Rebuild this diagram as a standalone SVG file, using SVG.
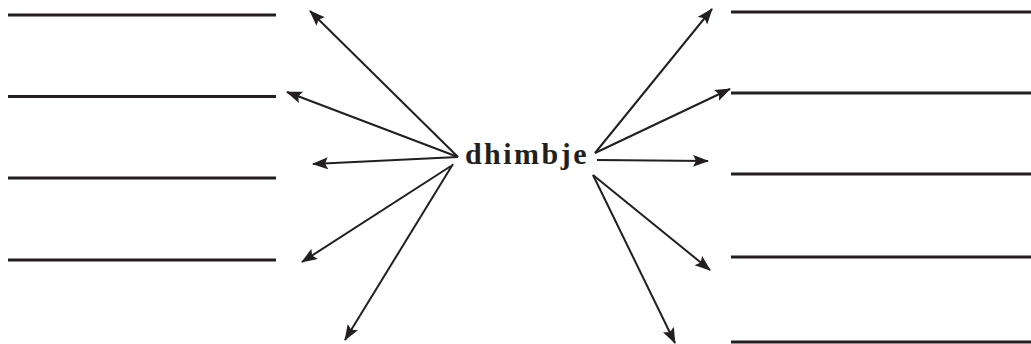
<svg xmlns="http://www.w3.org/2000/svg" width="1031" height="344" viewBox="0 0 1031 344">
<style>
.ln{stroke:#231f20;stroke-width:3.2;fill:none}
.ar{stroke:#231f20;stroke-width:2;fill:none;marker-end:url(#ah)}
.lbl{font-family:'Liberation Serif','Times New Roman','DejaVu Serif',serif;font-weight:700;font-size:30px;letter-spacing:2.5px;fill:#231f20}
</style>
<defs>
<marker id="ah" markerUnits="userSpaceOnUse" markerWidth="18" markerHeight="14" refX="15" refY="6" orient="auto">
<path d="M0,0 L16,6 L0,12 L3,6 Z" fill="#231f20"/>
</marker>
</defs>
<rect width="1031" height="344" fill="#fff"/>
<g id="lines-left">
<line class="ln" x1="8" y1="15" x2="276" y2="15"/>
<line class="ln" x1="8" y1="96.5" x2="276" y2="96.5"/>
<line class="ln" x1="8" y1="178" x2="276" y2="178"/>
<line class="ln" x1="8" y1="260" x2="276" y2="260"/>
</g>
<g id="lines-right">
<line class="ln" x1="731" y1="12" x2="1031" y2="12"/>
<line class="ln" x1="731" y1="93" x2="1031" y2="93"/>
<line class="ln" x1="731" y1="174" x2="1031" y2="174"/>
<line class="ln" x1="731" y1="257" x2="1031" y2="257"/>
<line class="ln" x1="731" y1="342" x2="1031" y2="342"/>
</g>
<g id="center">
<text class="lbl" x="527" y="164" text-anchor="middle">dhimbje</text>
</g>
<g id="connectors">
<line class="ar" x1="458" y1="157" x2="310" y2="11"/>
<line class="ar" x1="458" y1="157" x2="287" y2="92"/>
<line class="ar" x1="458" y1="157" x2="313" y2="164"/>
<line class="ar" x1="451" y1="166" x2="302" y2="262"/>
<line class="ar" x1="453" y1="164" x2="345" y2="340"/>
<line class="ar" x1="595" y1="153" x2="712" y2="9"/>
<line class="ar" x1="595" y1="153" x2="730" y2="89"/>
<line class="ar" x1="597" y1="160" x2="708" y2="161"/>
<line class="ar" x1="593" y1="175" x2="710" y2="270"/>
<line class="ar" x1="593" y1="175" x2="675" y2="343"/>
</g>
</svg>
